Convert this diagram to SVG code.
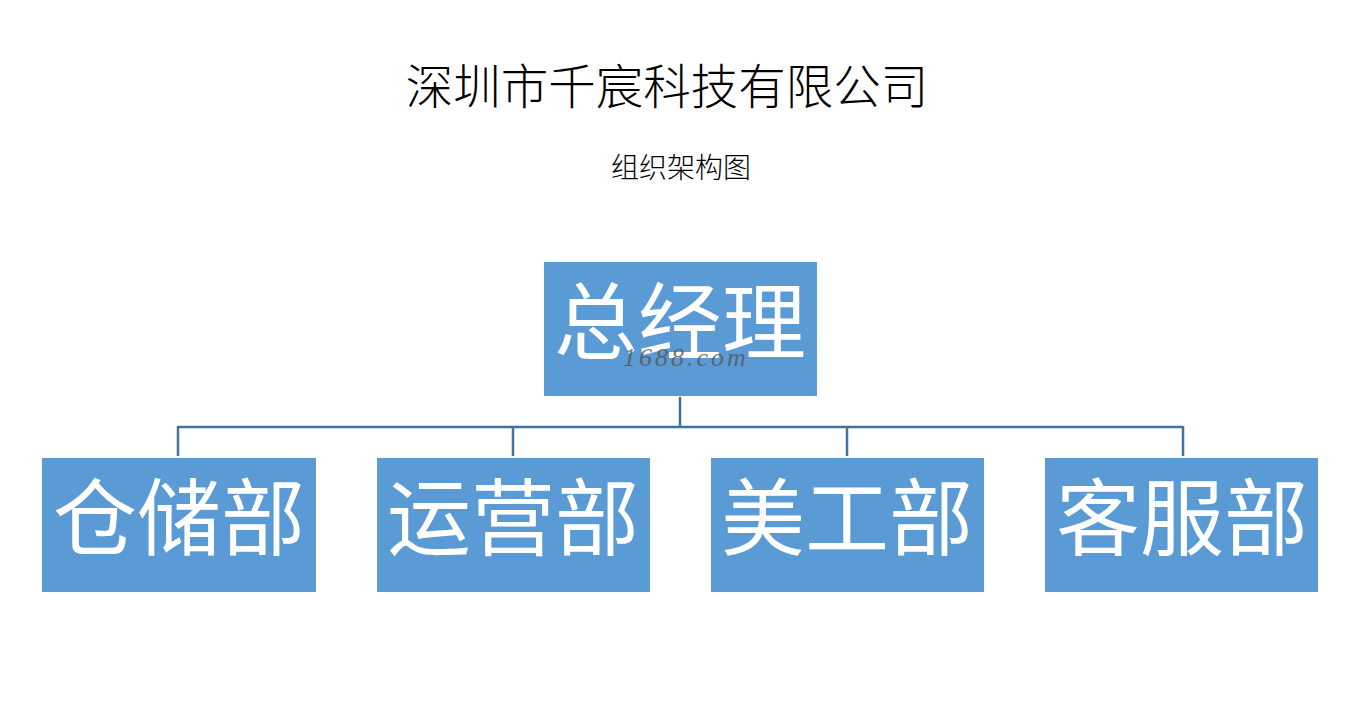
<svg xmlns="http://www.w3.org/2000/svg" width="1371" height="709" viewBox="0 0 1371 709">
<style>
.cjk{font-family:"Noto Sans CJK SC","Noto Sans CJK JP",sans-serif;}
.box{fill:#5b9bd5;}
.bt{fill:#ffffff;font-size:84px;text-anchor:middle;}
.conn{stroke:#41719c;stroke-width:2.5;fill:none;}
</style>
<rect width="1371" height="709" fill="#ffffff"/>
<text class="cjk" x="667" y="104" font-size="47.5" text-anchor="middle" fill="#000" font-weight="300">深圳市千宸科技有限公司</text>
<text class="cjk" x="681" y="178" font-size="28" text-anchor="middle" fill="#000" font-weight="300">组织架构图</text>
<g id="connectors">
<path class="conn" d="M680 397V427M178 427H1183M178 426V456M513 426V456M847 426V456M1183 426V456"/>
</g>
<g id="gm">
<rect class="box" x="544" y="262" width="273" height="134"/>
<text class="cjk bt" x="680" y="353">总经理</text>
<text x="686" y="366" font-family="Liberation Serif,serif" font-style="italic" font-size="26" letter-spacing="3" text-anchor="middle" fill="#555" fill-opacity="0.8">1688.com</text>
</g>
<g id="warehouse">
<rect class="box" x="42" y="458" width="274" height="134"/>
<text class="cjk bt" x="179" y="549">仓储部</text>
</g>
<g id="operations">
<rect class="box" x="377" y="458" width="273" height="134"/>
<text class="cjk bt" x="513" y="549">运营部</text>
</g>
<g id="design">
<rect class="box" x="711" y="458" width="273" height="134"/>
<text class="cjk bt" x="847" y="549">美工部</text>
</g>
<g id="service">
<rect class="box" x="1045" y="458" width="273" height="134"/>
<text class="cjk bt" x="1182" y="549">客服部</text>
</g>
</svg>
